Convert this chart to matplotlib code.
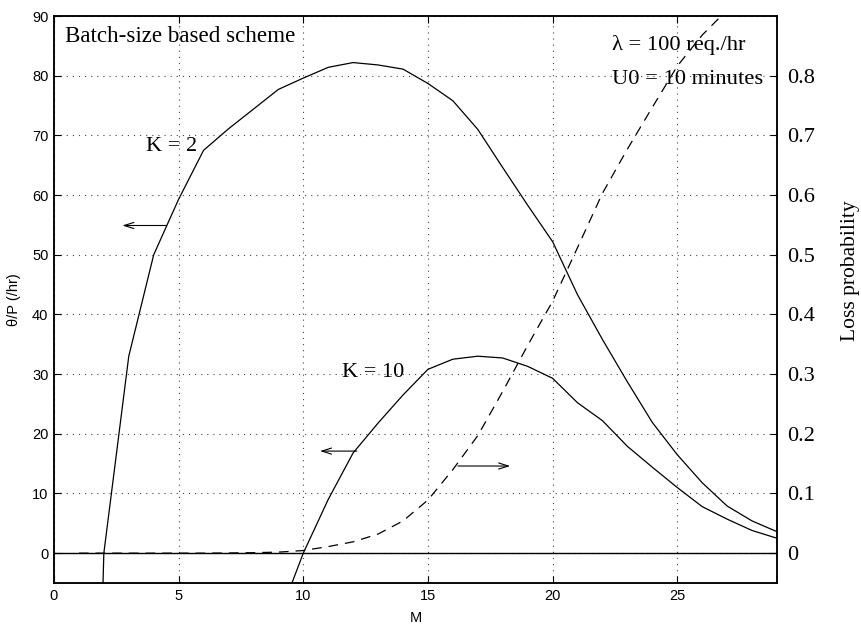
import numpy as np
import matplotlib
matplotlib.use("Agg")
import matplotlib.pyplot as plt

plt.rcParams['lines.scale_dashes'] = False

# Batch size M
m_values = [1, 2, 3, 4, 5, 6, 7, 8, 9, 10, 11, 12, 13, 14, 15,
            16, 17, 18, 19, 20, 21, 22, 23, 24, 25, 26, 27, 28, 29]

# Throughput per unit price theta/P (/hr) for K = 2
theta_k2 = [-150, 0, 33, 50, 59.3, 67.5, 71.1, 74.4, 77.7, 79.6, 81.4, 82.2, 81.8, 81.1,
            78.7, 75.8, 71.0, 64.6, 58.3, 52.2, 43.3, 35.8, 28.7, 21.9, 16.5, 11.8,
            7.9, 5.4, 3.6]

# Throughput per unit price theta/P (/hr) for K = 10
theta_k10 = [-120, -110, -100, -80, -65, -50, -38, -25, -11, 0, 9.0, 16.8, 21.8, 26.5,
             30.8, 32.5, 33.0, 32.7, 31.3, 29.3, 25.2, 22.2, 17.9, 14.4, 11.0, 7.8,
             5.7, 3.8, 2.5]

# Loss probability (right axis)
loss_prob = [0.0, 0.0, 0.0, 0.0, 0.0, 0.0, 0.0003, 0.0008, 0.0017, 0.0044, 0.011,
             0.019, 0.032, 0.054, 0.089, 0.14, 0.197, 0.271, 0.348, 0.422, 0.512,
             0.603, 0.677, 0.747, 0.816, 0.868, 0.91, 0.94, 0.96]

x_ticks = [0, 5, 10, 15, 20, 25]
left_ticks = [0, 10, 20, 30, 40, 50, 60, 70, 80, 90]
right_ticks = [0, 0.1, 0.2, 0.3, 0.4, 0.5, 0.6, 0.7, 0.8]
right_tick_labels = ['0', '0.1', '0.2', '0.3', '0.4', '0.5', '0.6', '0.7', '0.8']

serif = ['Liberation Serif', 'DejaVu Serif']
sans = ['Liberation Sans', 'DejaVu Sans']

fig = plt.figure(figsize=(8.61, 6.33), dpi=100)
ax = fig.add_axes([0.0627, 0.079, 0.8397, 0.8957])
ax2 = ax.twinx()

ax.set_xlim(0, 29)
ax.set_ylim(-5, 90)
ax2.set_ylim(-0.05, 0.9)

# grid
grid_style = dict(color='#444444', linewidth=0.8, linestyle=(0, (0.8, 3.6)))
ax.set_xticks(x_ticks)
ax.set_yticks(left_ticks)
ax.grid(True, **grid_style)

ax.plot(m_values, theta_k2, color='black', linewidth=0.9, zorder=3)
ax.plot(m_values, theta_k10, color='black', linewidth=0.9, zorder=3)
ax.axhline(0, color='black', linewidth=1.0, zorder=3)
ax2.plot(m_values, loss_prob, color='black', linewidth=0.9,
         linestyle=(0, (7, 5)), zorder=3)

# direction arrows
arrow = dict(arrowstyle='->,head_length=0.7,head_width=0.22', color='black',
             linewidth=0.8, shrinkA=0, shrinkB=0)
ax.annotate('', xy=(2.74, 54.9), xytext=(4.5, 54.9), arrowprops=arrow)
ax.annotate('', xy=(10.67, 17.1), xytext=(12.15, 17.1), arrowprops=arrow)
ax.annotate('', xy=(18.3, 14.6), xytext=(16.2, 14.6), arrowprops=arrow)

# annotations
ax.text(0.44, 86.5, 'Batch-size based scheme', family=serif, fontsize=16.6,
        va='center', ha='left')
ax.text(3.69, 68.2, 'K = 2', family=serif, fontsize=16, va='center', ha='left')
ax.text(11.55, 30.3, 'K = 10', family=serif, fontsize=16, va='center', ha='left')
ax.text(22.38, 85.1, 'λ = 100 req./hr', family=serif, fontsize=16.2,
        va='center', ha='left')
ax.text(22.38, 79.3, 'U0 = 10 minutes', family=serif, fontsize=16.2,
        va='center', ha='left')

# ticks and labels
ax.tick_params(axis='both', direction='in', length=5, width=0.8,
               labelsize=10.5, top=True, right=False, pad=4)
for lab in ax.get_xticklabels() + ax.get_yticklabels():
    lab.set_family(sans)
ax2.set_yticks(right_ticks)
ax2.set_yticklabels(right_tick_labels, family=serif, fontsize=16)
ax2.tick_params(axis='y', direction='in', length=5, width=0.8, pad=7)

ax.set_xlabel('M', family=sans, fontsize=10.5)
ax.xaxis.set_label_coords(0.5, -0.05)
ax.set_ylabel('θ/P (/hr)', family=sans, fontsize=10.5)
ax.yaxis.set_label_coords(-0.045, 0.5)
ax2.set_ylabel('Loss probability', family=serif, fontsize=15.5)
ax2.yaxis.set_label_coords(1.089, 0.55)

for a in (ax, ax2):
    for s in a.spines.values():
        s.set_linewidth(1.1)

fig.savefig('out.png', dpi=100)
